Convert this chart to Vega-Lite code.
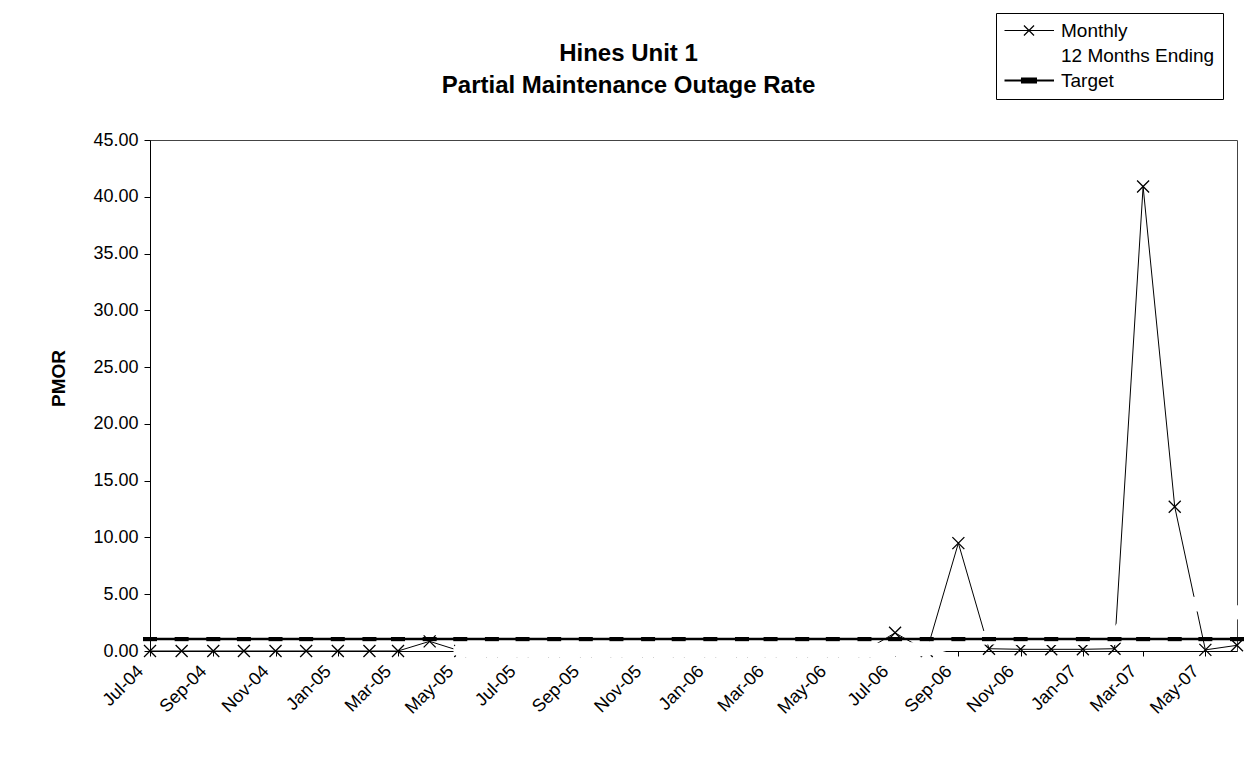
{
  "$schema": "https://vega.github.io/schema/vega-lite/v6.json",
  "autosize": "none",
  "width": 1087,
  "height": 511,
  "padding": {"left": 150, "top": 140, "right": 21, "bottom": 120},
  "background": "white",
  "config": {"font": "Liberation Sans", "view": {"stroke": "#444", "strokeWidth": 1}},
  "title": {
    "text": ["Hines Unit 1", "Partial Maintenance Outage Rate"],
    "fontSize": 24, "fontWeight": "bold", "font": "Liberation Sans", "color": "black",
    "anchor": "middle", "frame": "group", "dx": -65, "offset": -85, "lineHeight": 32
  },
  "data": {"values": [
    {"date": "2004-07-01", "Monthly": 0, "12 Months Ending": null, "Target": 1.05},
    {"date": "2004-08-01", "Monthly": 0, "12 Months Ending": null, "Target": 1.05},
    {"date": "2004-09-01", "Monthly": 0, "12 Months Ending": null, "Target": 1.05},
    {"date": "2004-10-01", "Monthly": 0, "12 Months Ending": null, "Target": 1.05},
    {"date": "2004-11-01", "Monthly": 0, "12 Months Ending": null, "Target": 1.05},
    {"date": "2004-12-01", "Monthly": 0, "12 Months Ending": null, "Target": 1.05},
    {"date": "2005-01-01", "Monthly": 0, "12 Months Ending": null, "Target": 1.05},
    {"date": "2005-02-01", "Monthly": 0, "12 Months Ending": null, "Target": 1.05},
    {"date": "2005-03-01", "Monthly": 0, "12 Months Ending": null, "Target": 1.05},
    {"date": "2005-04-01", "Monthly": 0.85, "12 Months Ending": null, "Target": 1.05},
    {"date": "2005-05-01", "Monthly": 0, "12 Months Ending": 0.07, "Target": 1.05},
    {"date": "2005-06-01", "Monthly": 0, "12 Months Ending": 0.07, "Target": 1.05},
    {"date": "2005-07-01", "Monthly": 0, "12 Months Ending": 0.07, "Target": 1.05},
    {"date": "2005-08-01", "Monthly": 0, "12 Months Ending": 0.07, "Target": 1.05},
    {"date": "2005-09-01", "Monthly": 0, "12 Months Ending": 0.07, "Target": 1.05},
    {"date": "2005-10-01", "Monthly": 0, "12 Months Ending": 0.07, "Target": 1.05},
    {"date": "2005-11-01", "Monthly": 0, "12 Months Ending": 0.07, "Target": 1.05},
    {"date": "2005-12-01", "Monthly": 0, "12 Months Ending": 0.07, "Target": 1.05},
    {"date": "2006-01-01", "Monthly": 0, "12 Months Ending": 0.07, "Target": 1.05},
    {"date": "2006-02-01", "Monthly": 0, "12 Months Ending": 0.07, "Target": 1.05},
    {"date": "2006-03-01", "Monthly": 0, "12 Months Ending": 0.07, "Target": 1.05},
    {"date": "2006-04-01", "Monthly": 0, "12 Months Ending": 0.07, "Target": 1.05},
    {"date": "2006-05-01", "Monthly": 0, "12 Months Ending": 0.07, "Target": 1.05},
    {"date": "2006-06-01", "Monthly": 0, "12 Months Ending": 0.07, "Target": 1.05},
    {"date": "2006-07-01", "Monthly": 1.6, "12 Months Ending": 0.15, "Target": 1.05},
    {"date": "2006-08-01", "Monthly": 0, "12 Months Ending": 0.15, "Target": 1.05},
    {"date": "2006-09-01", "Monthly": 9.5, "12 Months Ending": 0.95, "Target": 1.05},
    {"date": "2006-10-01", "Monthly": 0.2, "12 Months Ending": 1.2, "Target": 1.05},
    {"date": "2006-11-01", "Monthly": 0.15, "12 Months Ending": 1.15, "Target": 1.05},
    {"date": "2006-12-01", "Monthly": 0.15, "12 Months Ending": 1.15, "Target": 1.05},
    {"date": "2007-01-01", "Monthly": 0.15, "12 Months Ending": 1.15, "Target": 1.05},
    {"date": "2007-02-01", "Monthly": 0.2, "12 Months Ending": 1.15, "Target": 1.05},
    {"date": "2007-03-01", "Monthly": 40.9, "12 Months Ending": 4.4, "Target": 1.05},
    {"date": "2007-04-01", "Monthly": 12.7, "12 Months Ending": 4.4, "Target": 1.05},
    {"date": "2007-05-01", "Monthly": 0.1, "12 Months Ending": 4.0, "Target": 1.05},
    {"date": "2007-06-01", "Monthly": 0.5, "12 Months Ending": 3.4, "Target": 1.05}
  ]},
  "transform": [
    {"fold": ["Monthly", "12 Months Ending", "Target"], "as": ["series", "value"]},
    {"filter": "isValid(datum.value)"}
  ],
  "encoding": {
    "x": {
      "field": "date", "type": "temporal",
      "scale": {"type": "utc", "domain": [{"year": 2004, "month": 7, "date": 1, "utc": true}, {"year": 2007, "month": 6, "date": 1, "utc": true}]},
      "axis": {
        "title": null, "format": "%b-%y", "tickCount": {"interval": "month", "step": 2},
        "labelAngle": -45, "labelFontSize": 18, "labelColor": "black", "labelFont": "Liberation Sans",
        "tickSize": 5, "tickColor": "black", "domainColor": "black", "labelPadding": 6, "labelOffset": -16,
        "grid": false, "labelOverlap": false, "labelFlush": false, "labelBound": false
      }
    },
    "y": {
      "field": "value", "type": "quantitative",
      "scale": {"domain": [0, 45], "nice": false},
      "axis": {
        "title": "PMOR", "titleFontSize": 19, "titleFontWeight": "bold", "titleColor": "black", "titleFont": "Liberation Sans",
        "titleX": -92, "titleY": 238, "titleAngle": -90, "titleAlign": "center", "titleBaseline": "middle",
        "values": [0, 5, 10, 15, 20, 25, 30, 35, 40, 45], "format": ".2f",
        "labelFontSize": 18, "labelColor": "black", "labelFont": "Liberation Sans", "labelPadding": 6,
        "tickSize": 6, "tickColor": "black", "domainColor": "black", "grid": false
      }
    },
    "color": {
      "field": "series", "type": "nominal",
      "scale": {"domain": ["Monthly", "12 Months Ending", "Target"], "range": ["black", "white", "black"]},
      "legend": {
        "orient": "none", "legendX": 846, "legendY": -127, "title": null,
        "strokeColor": "black", "fillColor": "white", "padding": 8,
        "labelFontSize": 19, "labelFont": "Liberation Sans", "labelColor": "black",
        "symbolSize": 324, "labelOffset": 38, "rowPadding": 5,
        "encode": {"symbols": {"update": {
          "shape": {"signal": "datum.value === 'Monthly' ? 'M-1,0L4.5,0M1.16,-0.56L2.28,0.56M1.16,0.56L2.28,-0.56' : datum.value === 'Target' ? 'M-1,0L4.5,0M0.94,-0.22L2.5,-0.22L2.5,0.22L0.94,0.22Z' : 'M-1,0L4.5,0'"},
          "stroke": {"signal": "datum.value === '12 Months Ending' ? 'white' : 'black'"},
          "fill": {"signal": "datum.value === 'Target' ? 'black' : 'transparent'"},
          "strokeWidth": {"signal": "datum.value === 'Target' ? 2 : 1.2"},
          "size": {"value": 324},
          "opacity": {"value": 1}
        }}}
      }
    }
  },
  "layer": [
    {
      "transform": [{"filter": "datum.series === 'Monthly'"}],
      "mark": {"type": "line", "strokeWidth": 1}
    },
    {
      "transform": [{"filter": "datum.series === 'Monthly'"}],
      "mark": {"type": "point", "shape": "M-1,-1L1,1M-1,1L1,-1", "size": 144, "filled": false, "strokeWidth": 1.3, "opacity": 1}
    },
    {
      "transform": [{"filter": "datum.series === '12 Months Ending'"}],
      "mark": {"type": "line", "strokeWidth": 14, "strokeCap": "round", "strokeJoin": "round"}
    },
    {
      "transform": [{"filter": "datum.series === 'Target'"}],
      "mark": {"type": "line", "strokeWidth": 2.5}
    },
    {
      "transform": [{"filter": "datum.series === 'Target'"}],
      "mark": {"type": "point", "shape": "M-1,-0.3L1,-0.3L1,0.3L-1,0.3Z", "size": 196, "filled": true, "opacity": 1}
    }
  ]
}
